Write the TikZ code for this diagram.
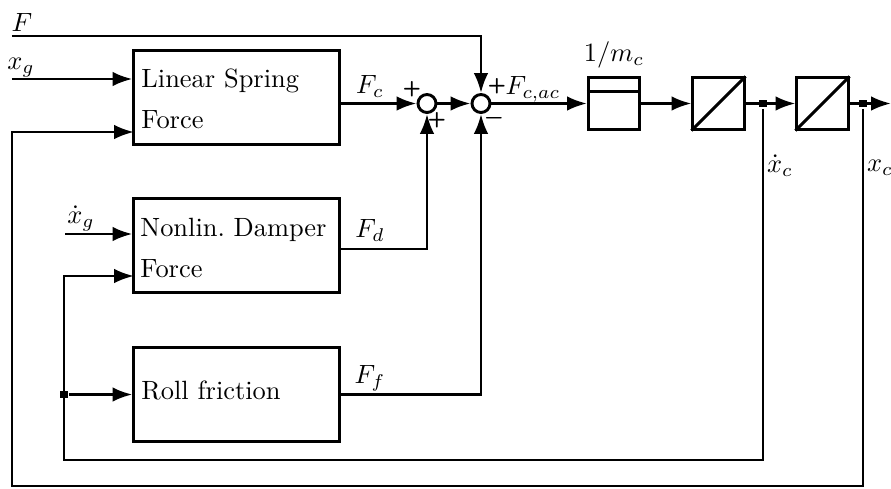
\documentclass[tikz,border=0pt]{standalone}
\usepackage{tikz}
\usetikzlibrary{arrows.meta,positioning,calc}

\begin{document}
\begin{tikzpicture}[x=0.0133cm, y=-0.0133cm, line width=1.1pt,
    block/.style={draw, minimum width=2.73cm, minimum height=1.24cm, inner sep=0},
    smallblock/.style={draw, minimum width=0.68cm, minimum height=0.68cm, inner sep=0},
    sumnode/.style={draw, circle, minimum size=0.24cm, inner sep=0},
    junc/.style={fill, rectangle, minimum size=3pt, inner sep=0},
    arr/.style={-{Latex[length=7.5pt,width=5.5pt]}},
    sign/.style={font=\footnotesize\bfseries\sffamily, inner sep=0},
    blocktext/.style={anchor=base west, inner sep=0}]
      \useasboundingbox (0,0) rectangle (891,489);

      % --- blocks ---
      \node[block] (spring) at (236.5,97.5) {};
      \node[block] (damper) at (236.5,245.5) {};
      \node[block] (roll) at (236.5,394.5) {};
      \node[blocktext] (springtxt) at (140,87) {Linear Spring};
      \node[blocktext] (springtxtb) at (140,128) {Force};
      \node[blocktext] (dampertxt) at (139,236) {Nonlin.\ Damper};
      \node[blocktext] (dampertxtb) at (139,277) {Force};
      \node[blocktext] (rolltxt) at (140,399) {Roll friction};

      % --- summing points, gain, integrators ---
      \node[sumnode] (sum1) at (427,103.5) {};
      \node[sumnode] (sum2) at (481,103.5) {};
      \node[smallblock] (gain) at (614,103.5) {};
      \draw ($(gain.north west)+(0,15)$) -- ($(gain.north east)+(0,15)$);
      \node[smallblock] (int1) at (718.5,103.5) {};
      \draw (int1.south west) -- (int1.north east);
      \node[smallblock] (int2) at (822.5,103.5) {};
      \draw (int2.south west) -- (int2.north east);
      \node[junc] (d1) at (763,103.5) {};
      \node[junc] (d2) at (863,103.5) {};

      % --- free ends and corners ---
      \coordinate (fin) at (12,36);
      \coordinate (xgin) at (12,79);
      \coordinate (xgdin) at (65,234);
      \coordinate (fbo) at (12,486);
      \coordinate (fbi) at (64,460);
      \coordinate (sp2) at (134,132);
      \coordinate (dp2) at (134,276);
      \coordinate (fdout) at (339,249);
      \coordinate (out) at (891,103.5);
      \node[junc] (d3) at (fbi |- roll.west) {};

      % --- inputs ---
      \draw[arr] (fin) -| (sum2);
      \draw[arr] (xgin) -- (xgin -| spring.west);
      \draw[arr] (xgdin) -- (xgdin -| damper.west);

      % --- feedback loops ---
      \draw[arr] (d2) |- (fbo) |- (sp2);
      \draw[arr] (d1) |- (fbi) |- (dp2);
      \draw[arr] (d3) -- (roll.west);

      % --- forces to summing points ---
      \draw[arr] (sum1 -| spring.east) -- (sum1);
      \draw[arr] (fdout) -| (sum1);
      \draw[arr] (roll.east) -| (sum2);
      \draw[arr] (sum1) -- (sum2);

      % --- forward path ---
      \draw[arr] (sum2) -- (gain);
      \draw[arr] (gain) -- (int1);
      \draw[arr] (int1) -- (int2);
      \draw[arr] (int2) -- (out);

      % --- labels ---
      \node (lF) at (22,22) {$F$};
      \node (lxg) at (21,68) {$x_g$};
      \node (lxgd) at (81,218) {$\dot x_g$};
      \node (lFc) at (370,86) {$F_c$};
      \node (lFd) at (370,230) {$F_d$};
      \node (lFf) at (370,378) {$F_f$};
      \node (lFcac) at (533,89) {$F_{c,ac}$};
      \node (lm) at (614,55) {$1/m_c$};
      \node (lxcd) at (780,166) {$\dot x_c$};
      \node (lxc) at (880,168) {$x_c$};

      % --- signs ---
      \node[sign] (s1a) at (412,89) {+};
      \node[sign] (s1b) at (437,120) {+};
      \node[sign] (s2a) at (497,86) {+};
      \node[sign, font=\footnotesize\boldmath] (s2b) at (494,118) {$-$};
\end{tikzpicture}
\end{document}
